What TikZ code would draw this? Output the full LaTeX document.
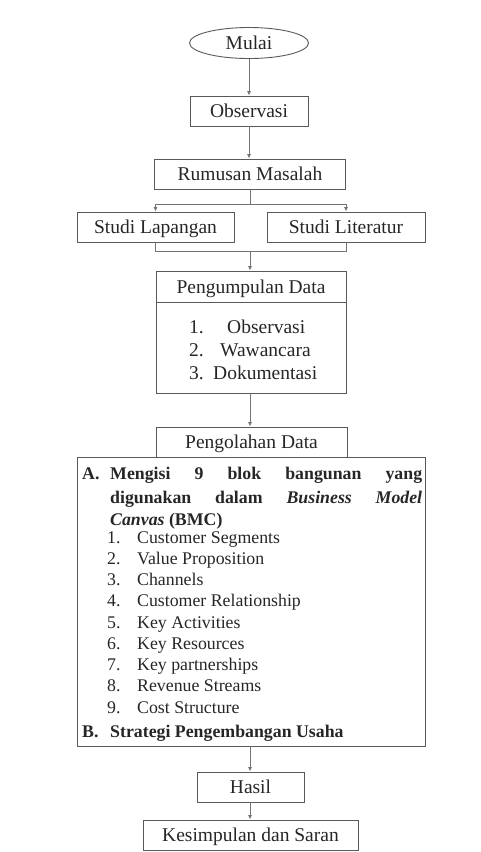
\documentclass[tikz,border=0pt]{standalone}
\usepackage{fontspec}
\setmainfont{Liberation Serif}
\usetikzlibrary{arrows.meta, positioning, shapes.geometric}

\begin{document}
\begin{tikzpicture}[x=1pt, y=-1pt,
  box/.style={rectangle, draw=black!65, line width=0.9pt, minimum height=30pt,
              inner sep=0pt, text height=16pt, text depth=3pt,
              font=\fontsize{19.5}{22}\selectfont, text=black!85},
  startnode/.style={ellipse, draw=black!65, line width=0.9pt, minimum width=119pt,
              minimum height=31pt, inner sep=0pt, text height=16pt, text depth=3pt,
              font=\fontsize{19.5}{22}\selectfont, text=black!85},
  flow/.style={draw=black!55, line width=0.8pt, -{Latex[length=4.5pt, width=4pt]}},
  link/.style={draw=black!55, line width=0.8pt},
  item/.style={anchor=base west, inner sep=0pt, font=\fontsize{17.8}{20}\selectfont, text=black!85},
  bolditem/.style={item, font=\fontsize{17.8}{20}\selectfont\bfseries},
  listitem/.style={anchor=base west, inner sep=0pt, font=\fontsize{19.5}{22}\selectfont, text=black!85}
]
  \useasboundingbox (0,0) rectangle (480,852);

  % Main flow
  \node[startnode] (mulai) at (249,43) {Mulai};
  \node[box, minimum width=118pt] (obs) at (249,111) {Observasi};
  \node[box, minimum width=191pt] (rumusan) at (250,174) {Rumusan Masalah};
  \node[box, minimum width=157pt] (lap) at (155.5,227) {Studi Lapangan};
  \node[box, minimum width=158pt] (lit) at (346,227) {Studi Literatur};
  \node[box, minimum width=190pt, minimum height=31pt] (kump) at (251,286.5) {Pengumpulan Data};
  \node[box, minimum width=190pt, minimum height=91pt] (kumplist) at (251,347.5) {};
  \node[box, minimum width=191pt] (olah) at (251.5,442) {Pengolahan Data};
  \node[box, minimum width=348pt, minimum height=289pt] (olahbox) at (251,601.5) {};
  \node[box, minimum width=107pt] (hasil) at (250.5,787) {Hasil};
  \node[box, minimum width=215pt] (simpul) at (250.5,835) {Kesimpulan dan Saran};

  % Data collection methods
  \foreach \n/\x/\yb/\txt in {1/227/333/Observasi, 2/220/356/Wawancara, 3/213/379/Dokumentasi} {
    \node[listitem] (num\n) at (189,\yb) {\n.};
    \node[listitem] (met\n) at (\x,\yb) {\txt};
  }

  % BMC blocks
  \node[bolditem] (la) at (82,479) {A.};
  \node[bolditem] (la1) at (110,479) {\makebox[312pt][s]{Mengisi 9 blok bangunan yang}};
  \node[bolditem] (la2) at (110,503) {\makebox[312pt][s]{digunakan dalam \textit{Business Model}}};
  \node[bolditem] (la3) at (110,525) {\textit{Canvas} (BMC)};
  \foreach \i/\txt in {1/Customer Segments, 2/Value Proposition, 3/Channels,
                       4/Customer Relationship, 5/Key Activities, 6/Key Resources,
                       7/Key partnerships, 8/Revenue Streams, 9/Cost Structure} {
    \node[item] (bnum\i) at (107,{543+21.25*(\i-1)}) {\i.};
    \node[item] (blok\i) at (137,{543+21.25*(\i-1)}) {\txt};
  }
  \node[bolditem] (lb) at (82,737) {B.};
  \node[bolditem] (lb1) at (110,737) {Strategi Pengembangan Usaha};

  % Connectors
  \coordinate (split) at (250,204);
  \coordinate (merge) at (250,251);
  \draw[flow] (mulai) -- (obs);
  \draw[flow] (obs) -- (obs.south |- rumusan.north);
  \draw[link] (rumusan.south) -- (split);
  \draw[flow] (split) -| (lap.north);
  \draw[flow] (split) -| (lit.north);
  \draw[link] (lap.south) |- (merge);
  \draw[link] (lit.south) |- (merge);
  \draw[flow] (merge) -- (merge |- kump.north);
  \draw[flow] (merge |- kumplist.south) -- (merge |- olah.north);
  \draw[flow] (merge |- olahbox.south) -- (merge |- hasil.north);
  \draw[flow] (merge |- hasil.south) -- (merge |- simpul.north);
\end{tikzpicture}
\end{document}
